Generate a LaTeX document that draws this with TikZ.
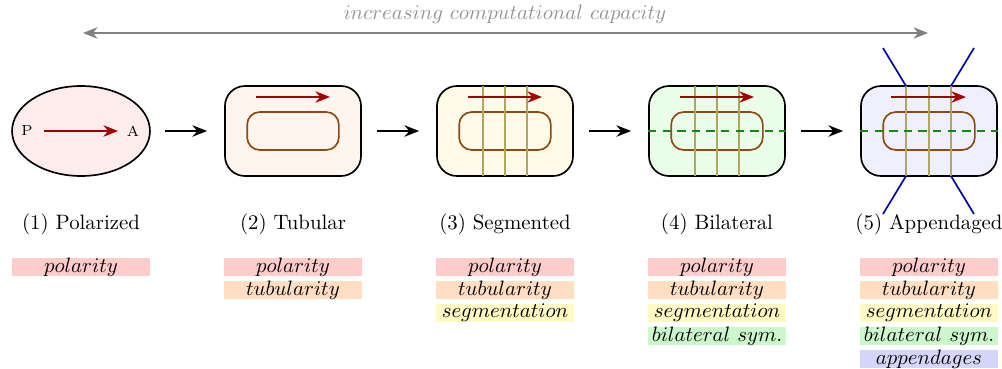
\documentclass[tikz,border=0pt]{standalone}
\usetikzlibrary{arrows.meta,shapes.geometric}
\definecolor{darkred}{RGB}{165,0,0}
\definecolor{innerbrown}{RGB}{140,75,20}
\definecolor{segolive}{RGB}{176,166,96}
\definecolor{appblue}{RGB}{0,0,160}
\definecolor{symgreen}{RGB}{20,135,20}
\definecolor{f1}{RGB}{252,236,236}
\definecolor{f2}{RGB}{255,244,238}
\definecolor{f3}{RGB}{255,251,232}
\definecolor{f4}{RGB}{234,253,232}
\definecolor{f5}{RGB}{239,239,253}
\definecolor{p1}{RGB}{255,204,204}
\definecolor{p2}{RGB}{255,222,194}
\definecolor{p3}{RGB}{255,249,196}
\definecolor{p4}{RGB}{204,246,204}
\definecolor{p5}{RGB}{214,214,250}
\begin{document}
\begin{tikzpicture}[x=0.48pt,y=-0.48pt,
  cell/.style={draw=black,thick,rectangle,rounded corners=9.6pt,minimum width=65.3pt,minimum height=43.2pt,inner sep=0pt},
  innerbox/.style={draw=innerbrown,thick,rectangle,rounded corners=6pt,minimum width=44pt,minimum height=18.2pt,inner sep=0pt},
  polar/.style={draw=darkred,thick,-{Stealth[length=7pt,width=5.5pt]}},
  seg/.style={draw=segolive,thick},
  app/.style={draw=appblue,thick},
  sym/.style={draw=symgreen,thick,dash pattern=on 4pt off 3pt},
  conn/.style={draw=black,thick,-{Stealth[length=7pt,width=5.5pt]}},
  lab/.style={font=\normalsize},
  prop/.style={rectangle,minimum width=65.8pt,minimum height=7.7pt,inner sep=0pt},
]
\useasboundingbox (0,0) rectangle (1002,368);
% top arrow
\coordinate (cl) at (83,33);
\coordinate (cr) at (928,33);
\draw[gray,thick,{Stealth[length=7pt,width=5.5pt]}-{Stealth[length=7pt,width=5.5pt]}] (cl) -- (cr);
\node[text=gray!85] (cap) at (505,14) {$increasing\ computational\ capacity$};
% (1) ellipse
\node[draw=black,thick,ellipse,fill=f1,minimum width=66.2pt,minimum height=43.2pt,inner sep=0pt] (e1) at (81,131) {};
\node[font=\scriptsize] (P) at (27,131) {P};
\node[font=\scriptsize] (A) at (133,131) {A};
\draw[polar] (44,131) -- (118,131);
% (2)
\node[cell,fill=f2] (b2) at (293,131) {};
\node[innerbox] (i2) at (293,131) {};
\draw[polar] (256,97) -- (330,97);
% (3)
\node[cell,fill=f3] (b3) at (505,131) {};
\node[innerbox] (i3) at (505,131) {};
\foreach \x in {483,505,527} \draw[seg] (\x,86) -- (\x,176);
\draw[polar] (468,97) -- (542,97);
% (4)
\node[cell,fill=f4] (b4) at (717,131) {};
\node[innerbox] (i4) at (717,131) {};
\foreach \x in {695,717,739} \draw[seg] (\x,86) -- (\x,176);
\draw[sym] (b4.west) -- (b4.east);
\draw[polar] (680,97) -- (754,97);
% (5)
\node[cell,fill=f5] (b5) at (929,131) {};
\node[innerbox] (i5) at (929,131) {};
\foreach \x in {906,929,951} \draw[seg] (\x,86) -- (\x,176);
\draw[sym] (b5.west) -- (b5.east);
\draw[polar] (891,97) -- (966,97);
\draw[app] (906,86) -- (883,48);
\draw[app] (951,86) -- (974,48);
\draw[app] (906,176) -- (883,214);
\draw[app] (951,176) -- (974,214);
% connectors
\draw[conn,shorten <=6.7pt,shorten >=8.2pt] (e1) -- (b2);
\draw[conn,shorten <=7.2pt,shorten >=8.2pt] (b2) -- (b3);
\draw[conn,shorten <=7.2pt,shorten >=8.2pt] (b3) -- (b4);
\draw[conn,shorten <=7.2pt,shorten >=8.2pt] (b4) -- (b5);
% labels
\node[lab] (l1) at (81,224) {(1) Polarized};
\node[lab] (l2) at (293,224) {(2) Tubular};
\node[lab] (l3) at (505,224) {(3) Segmented};
\node[lab] (l4) at (717,224) {(4) Bilateral};
\node[lab] (l5) at (929,224) {(5) Appendaged};
% properties
\node[prop,fill=p1] (q11) at (81,267) {$polarity$};
\node[prop,fill=p1] (q21) at (293,267) {$polarity$};
\node[prop,fill=p2] (q22) at (293,290) {$tubularity$};
\node[prop,fill=p1] (q31) at (505,267) {$polarity$};
\node[prop,fill=p2] (q32) at (505,290) {$tubularity$};
\node[prop,fill=p3] (q33) at (505,313) {$segmentation$};
\node[prop,fill=p1] (q41) at (717,267) {$polarity$};
\node[prop,fill=p2] (q42) at (717,290) {$tubularity$};
\node[prop,fill=p3] (q43) at (717,313) {$segmentation$};
\node[prop,fill=p4] (q44) at (717,336) {$bilateral\ sym.$};
\node[prop,fill=p1] (q51) at (929,267) {$polarity$};
\node[prop,fill=p2] (q52) at (929,290) {$tubularity$};
\node[prop,fill=p3] (q53) at (929,313) {$segmentation$};
\node[prop,fill=p4] (q54) at (929,336) {$bilateral\ sym.$};
\node[prop,fill=p5] (q55) at (929,359) {$appendages$};
\end{tikzpicture}
\end{document}
